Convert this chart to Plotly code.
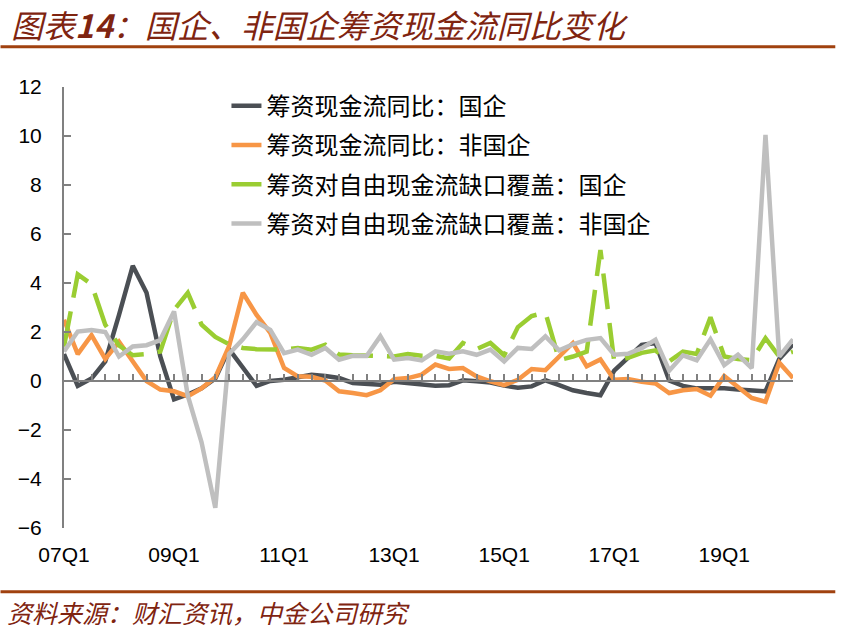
import plotly.graph_objects as go

# ---------------- data ----------------
quarters = [f"{y:02d}Q{q}" for y in range(7, 21) for q in range(1, 5)][:54]  # 07Q1 .. 20Q2
tick_labels = ["07Q1", "09Q1", "11Q1", "13Q1", "15Q1", "17Q1", "19Q1"]

soe_fin_yoy = [1.1, -0.2, 0.1, 0.8, 2.7, 4.7, 3.6, 1.0, -0.75, -0.55, -0.3, 0.1, 1.3, 0.55,
               -0.2, 0.0, 0.05, 0.15, 0.25, 0.2, 0.12, -0.08, -0.12, -0.15, -0.03, -0.08,
               -0.1, -0.19, -0.17, 0.03, -0.01, -0.06, -0.19, -0.27, -0.22, 0.03, -0.17,
               -0.38, -0.49, -0.58, 0.42, 0.97, 1.47, 1.55, 0.02, -0.2, -0.3, -0.3, -0.3,
               -0.35, -0.38, -0.42, 0.9, 1.5]
nsoe_fin_yoy = [2.5, 1.1, 1.87, 0.9, 1.6, 0.8, 0.0, -0.35, -0.42, -0.62, -0.3, 0.15, 1.42, 3.6,
                2.7, 1.96, 0.53, 0.19, 0.17, 0.02, -0.42, -0.49, -0.58, -0.38, 0.07, 0.12,
                0.26, 0.67, 0.49, 0.53, 0.19, -0.01, -0.17, 0.05, 0.49, 0.44, 1.0, 1.55, 0.6,
                0.88, 0.05, 0.08, -0.03, -0.1, -0.49, -0.38, -0.33, -0.6, 0.2, -0.22, -0.69,
                -0.85, 0.75, 0.12]
soe_cover = [1.4, 4.35, 3.95, 2.3, 1.45, 1.05, 1.1, 1.2, 2.9, 3.6, 2.3, 1.8, 1.5, 1.35, 1.3,
             1.27, 1.28, 1.35, 1.28, 1.48, 1.08, 1.05, 1.02, 1.0, 1.0, 1.1, 1.03, 1.03, 0.92,
             1.55, 1.3, 1.55, 1.05, 2.2, 2.65, 2.8, 0.85, 1.0, 1.2, 5.35, 0.8, 0.95, 1.15,
             1.25, 0.8, 1.2, 1.1, 2.6, 1.0, 0.9, 0.85, 1.75, 1.0, 1.2]
nsoe_cover = [1.2, 2.02, 2.08, 2.0, 1.0, 1.41, 1.46, 1.67, 2.84, -0.6, -2.5, -5.18, 1.1, 1.7,
              2.4, 2.09, 1.14, 1.28, 1.07, 1.35, 0.87, 1.03, 1.02, 1.83, 0.87, 0.94, 0.84,
              1.21, 1.11, 1.21, 1.07, 1.28, 0.8, 1.35, 1.31, 1.82, 1.25, 1.5, 1.68, 1.75,
              1.07, 1.11, 1.34, 1.68, 0.42, 1.05, 0.85, 1.7, 0.65, 1.07, 0.53, 10.05, 1.0, 1.7]

series_names = ["筹资现金流同比：国企", "筹资现金流同比：非国企",
                "筹资对自由现金流缺口覆盖：国企", "筹资对自由现金流缺口覆盖：非国企"]
series_values = [soe_fin_yoy, nsoe_fin_yoy, soe_cover, nsoe_cover]
series_colors = ["#4B4F54", "#F79646", "#9ACD32", "#BFBFBF"]
series_dash = ["solid", "solid", "36px,14px", "solid"]

# ---------------- layout geometry ----------------
W, H = 845, 635
L, R, T, B = 63.5, 52.3, 87.3, 106.7
pw, ph = W - L - R, H - T - B


def px_x(X):
    return (X - L) / pw


def px_y(Y):
    return (H - B - Y) / ph


x = list(range(len(quarters)))
tickvals = [quarters.index(t) for t in tick_labels]

fig = go.Figure()
for i, (name, vals, col, dash) in enumerate(zip(series_names, series_values, series_colors, series_dash)):
    fig.add_trace(go.Scatter(
        x=x, y=vals, name=name, mode="lines",
        line=dict(color=col, width=4.5, dash=dash),
        legendgroup=f"g{i}", hoverinfo="skip",
    ))

# invisible trace to carry the zero-line axis (x2)
fig.add_trace(go.Scatter(x=x, y=[0] * len(x), xaxis="x2", mode="lines",
                         line=dict(width=0), showlegend=False, hoverinfo="skip"))

axis_gray = "#808080"
fig.update_layout(
    width=W, height=H,
    margin=dict(l=L, r=R, t=T, b=B, pad=0),
    paper_bgcolor="white", plot_bgcolor="white",
    showlegend=True,
    legend=dict(
        x=px_x(226), y=px_y(84), xanchor="left", yanchor="top",
        font=dict(family="Noto Sans CJK SC", size=24, color="black"),
        bgcolor="rgba(0,0,0,0)", traceorder="grouped", tracegroupgap=5,
    ),
    xaxis=dict(
        range=[0, len(x) - 1], tickmode="array", tickvals=tickvals, ticktext=tick_labels,
        showline=False, showgrid=False, zeroline=False, ticks="",
        tickfont=dict(family="Liberation Sans, Arial", size=21, color="black"),
        ticklabelstandoff=12,
    ),
    xaxis2=dict(
        overlaying="x", anchor="free", position=6 / 18, side="bottom",
        range=[0, len(x) - 1], tickmode="array", tickvals=x, showticklabels=False,
        showline=True, linecolor=axis_gray, linewidth=2,
        ticks="inside", ticklen=6, tickwidth=1.5, tickcolor=axis_gray,
        showgrid=False, zeroline=False,
    ),
    yaxis=dict(
        range=[-6, 12], dtick=2, tick0=0, showgrid=False, zeroline=False,
        showline=True, linecolor=axis_gray, linewidth=2,
        ticks="inside", ticklen=7, tickwidth=2, tickcolor=axis_gray,
        tickfont=dict(family="Liberation Sans, Arial", size=21, color="black"),
        ticklabelstandoff=16,
    ),
    font=dict(family="Noto Sans CJK SC"),
)

title_color = "#7F2410"
rule_color = "#A0410F"

fig.add_annotation(
    xref="paper", yref="paper", x=px_x(8), y=px_y(24), xanchor="left", yanchor="middle",
    text="<i>图表<b>14</b>：国企、非国企筹资现金流同比变化</i>", showarrow=False,
    font=dict(family="Noto Sans CJK SC", size=32, color=title_color),
)
fig.add_annotation(
    xref="paper", yref="paper", x=px_x(4), y=px_y(612), xanchor="left", yanchor="middle",
    text="<i>资料来源：财汇资讯，中金公司研究</i>", showarrow=False,
    font=dict(family="Noto Sans CJK SC", size=25, color=title_color),
)
for yy in (47, 592):
    fig.add_shape(type="line", xref="paper", yref="paper",
                  x0=px_x(0), x1=px_x(835), y0=px_y(yy), y1=px_y(yy),
                  line=dict(color=rule_color, width=3))

fig.write_html("out.html")
